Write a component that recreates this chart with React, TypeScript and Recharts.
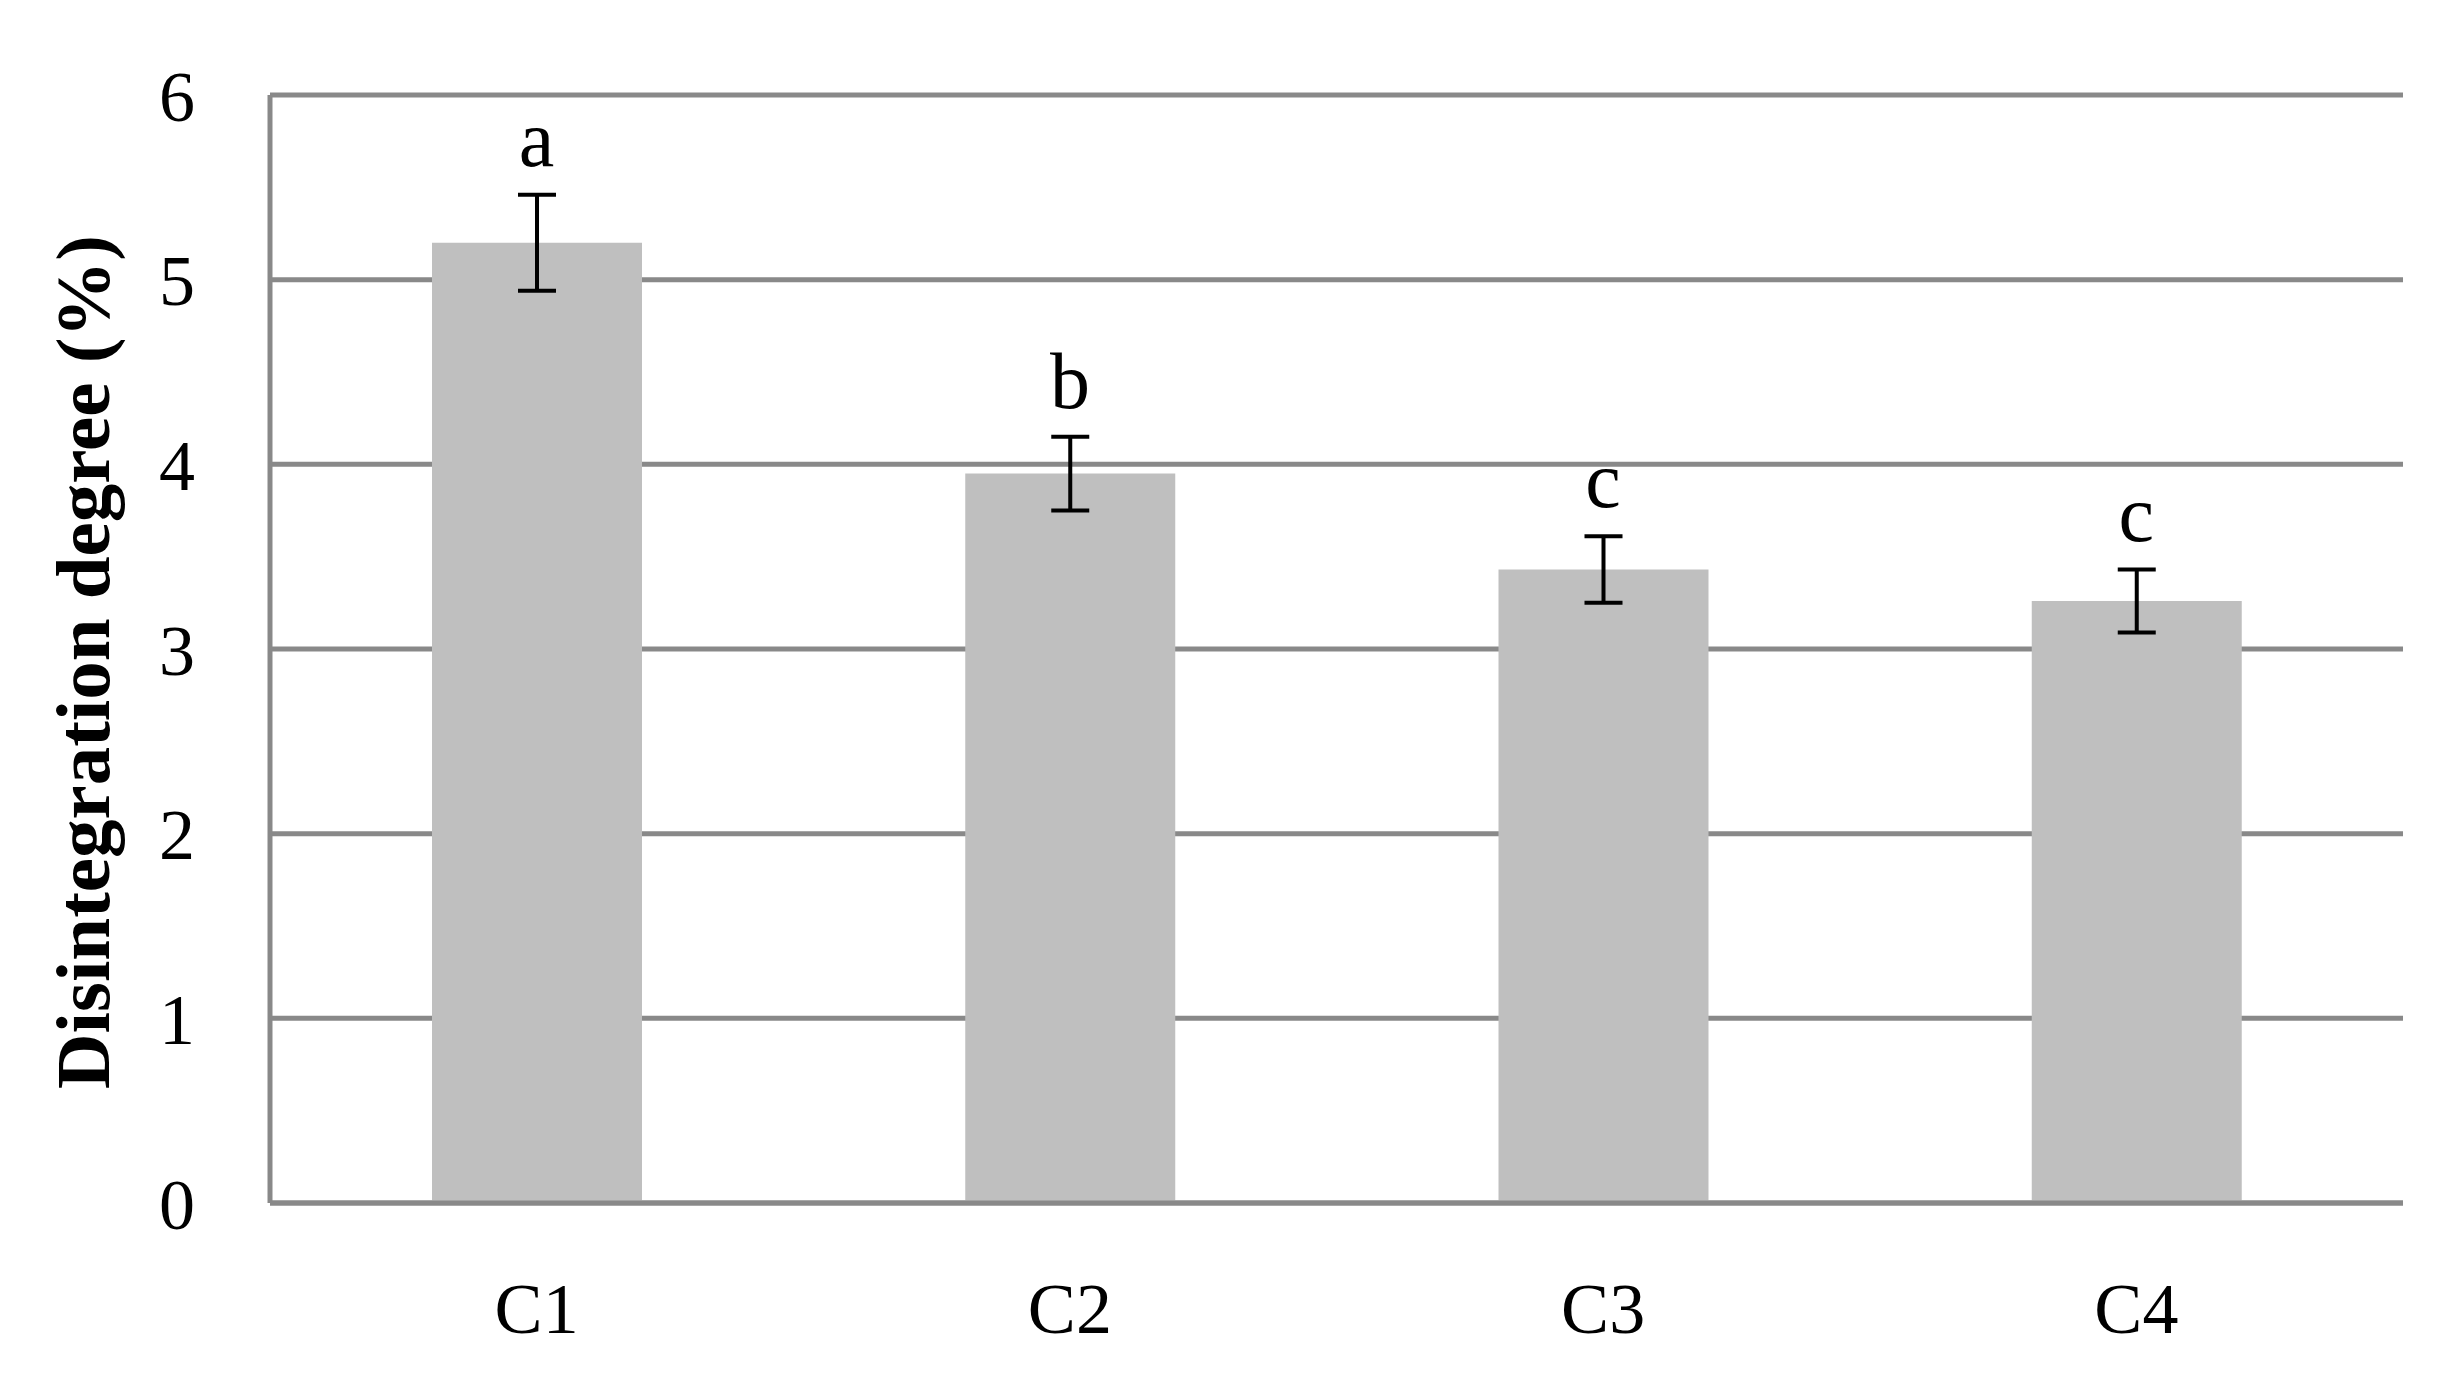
import React from 'react';
import { ComposedChart, Bar, Line, XAxis, YAxis, CartesianGrid, ErrorBar, LabelList } from 'recharts';

const categories = ['C1', 'C2', 'C3', 'C4'];
const means = [5.2, 3.95, 3.43, 3.26];
const errors = [0.26, 0.2, 0.18, 0.17];
const letters = ['a', 'b', 'c', 'c'];
const yTicks = [0, 1, 2, 3, 4, 5, 6];

const data = categories.map((c, i) => ({
  name: c,
  value: means[i],
  err: errors[i],
  top: means[i] + errors[i],
  letter: letters[i],
}));

const FONT = '"Liberation Serif", "DejaVu Serif", serif';
const GRID = '#898989';

const TitleLabel = (props: any) => {
  const vb = props.viewBox || { x: 0, y: 0, width: 270, height: 1108 };
  const cx = vb.x + 83;
  const cy = vb.y + vb.height / 2 + 13;
  return (
    <text
      transform={`translate(${cx},${cy}) rotate(-90)`}
      textAnchor="middle"
      dominantBaseline="central"
      fontFamily={FONT}
      fontWeight="bold"
      fontSize={77}
      fill="#000"
    >
      Disintegration degree (%)
    </text>
  );
};

export default function App() {
  return (
    <div style={{ position: 'absolute', left: 0, top: 0, background: '#fff' }}>
      <ComposedChart
        width={2460}
        height={1396}
        data={data}
        margin={{ top: 95, right: 57, bottom: 93, left: 0 }}
      >
        <CartesianGrid horizontal vertical={false} stroke={GRID} strokeWidth={5} />
        <XAxis
          dataKey="name"
          height={100}
          axisLine={{ stroke: GRID, strokeWidth: 5 }}
          tickLine={false}
          tickSize={0}
          tickMargin={79}
          tick={{ fill: '#000', fontSize: 72, fontFamily: FONT }}
        />
        <YAxis
          width={270}
          domain={[0, 6]}
          ticks={yTicks}
          interval={0}
          axisLine={{ stroke: GRID, strokeWidth: 5 }}
          tickLine={false}
          tickSize={0}
          tickMargin={75}
          tick={{ fill: '#000', fontSize: 72, fontFamily: FONT }}
          label={TitleLabel}
        />
        <Bar dataKey="value" fill="#bfbfbf" barSize={210} isAnimationActive={false}>
          <ErrorBar dataKey="err" width={19} stroke="#000" strokeWidth={4} direction="y" />
        </Bar>
        <Line
          dataKey="top"
          stroke="none"
          dot={false}
          activeDot={false}
          isAnimationActive={false}
          legendType="none"
        >
          <LabelList
            dataKey="letter"
            position="top"
            offset={29}
            fill="#000"
            fontSize={80}
            fontFamily={FONT}
          />
        </Line>
      </ComposedChart>
    </div>
  );
}
